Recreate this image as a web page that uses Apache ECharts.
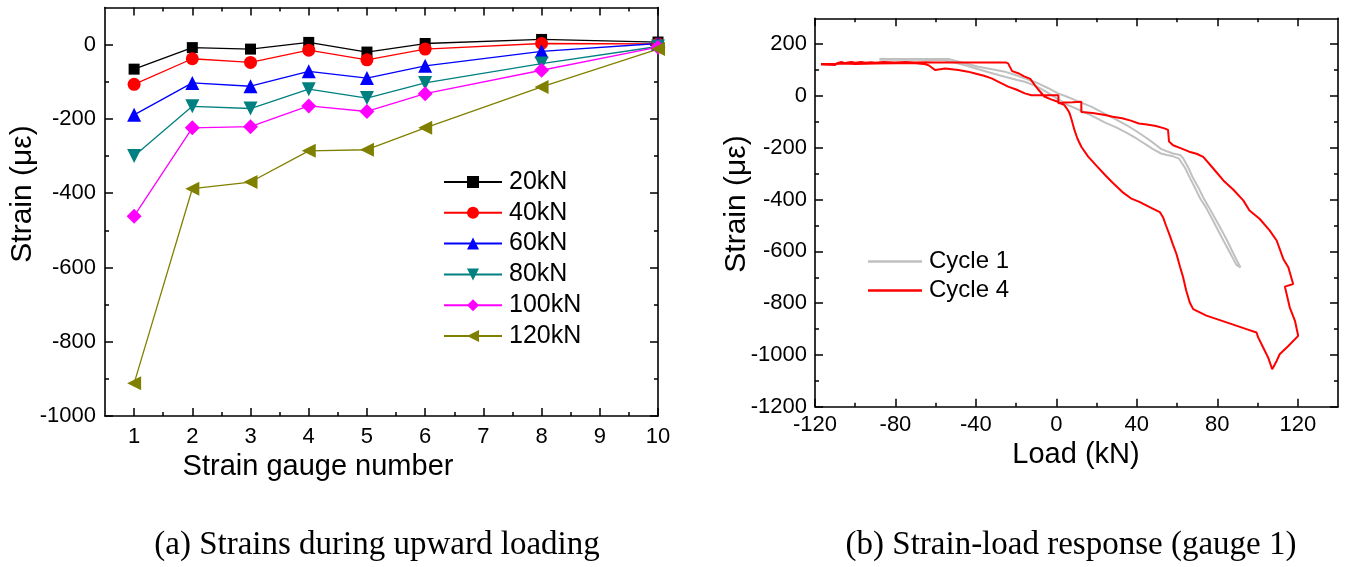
<!DOCTYPE html>
<html>
<head>
<meta charset="utf-8">
<script src="https://cdn.jsdelivr.net/npm/echarts@6/dist/echarts.min.js"></script>
<style>
  html, body { margin: 0; padding: 0; background: #ffffff; }
  #chart { width: 1346px; height: 567px; }
</style>
</head>
<body>
<div id="chart"></div>
<script>
// ---- (a) strains along the gauges for each upward load step (με) ----
const gaugeNumbers = [1, 2, 3, 4, 5, 6, 8, 10];
const strain20kN  = [-66, -8, -12, 6, -20, 3, 14, 7];
const strain40kN  = [-107, -38, -48, -15, -41, -12, 3, 2];
const strain60kN  = [-189, -103, -112, -72, -90, -57, -18, 3];
const strain80kN  = [-300, -166, -172, -120, -144, -103, -51, -5];
const strain100kN = [-462, -224, -221, -165, -180, -132, -69, -7];
const strain120kN = [-912, -388, -370, -286, -283, -224, -114, -12];

// ---- (b) gauge 1 strain against applied load: [load kN, strain με] ----
const cycle1 = [
  [-88, 143], [-70, 143], [-53.6, 143], [-50.3, 136], [-44, 124], [-38.8, 113], [-32, 103],
  [-25.6, 94], [-20, 80], [-15.7, 68], [-9.1, 49], [-4, 30], [0.8, 10], [5, -2], [9.1, -15],
  [17.3, -41], [24, -68], [30, -92], [35, -113], [40, -137], [45, -163], [49, -186],
  [52, -204], [55, -214], [58, -222], [61.5, -228], [63, -240], [65.5, -275], [68, -318],
  [70.5, -352], [73, -392], [76, -432], [79, -474], [82, -516], [85, -560], [88, -608],
  [91.5, -662], [91, -668], [89.5, -652], [86.5, -608], [83.5, -565], [80.5, -520],
  [77.5, -476], [74.5, -432], [71.5, -396], [69, -356], [66.5, -318], [64, -278],
  [61, -242], [58, -233], [55, -228], [52, -222], [48, -205], [45, -190], [40, -165],
  [35, -142], [30, -122], [24, -102], [17.3, -75], [12, -56], [5.8, -35], [0.8, -12],
  [-5.8, 20], [-10, 38], [-15.7, 55], [-20, 63], [-25.6, 74], [-32, 88], [-38.8, 103],
  [-44, 116], [-50.3, 128], [-56, 138], [-70, 140], [-88, 140]
];
const cycle4 = [
  [-117, 122], [-113, 121], [-110, 120], [-109, 127], [-107, 131], [-105, 127], [-102, 131],
  [-100, 128], [-97, 131], [-95, 128], [-92, 130], [-90, 128], [-86, 131], [-80, 129],
  [-75, 131], [-70, 129], [-65, 130], [-60, 129], [-50, 129], [-40, 129], [-30, 129],
  [-25, 129], [-24, 126], [-22, 96], [-19, 88], [-16, 76], [-13, 66], [-11, 45], [-9, 25],
  [-6, -2], [-3, -12], [0, -20], [2, -28], [4, -35], [5.5, -52], [6.5, -65], [7.5, -90],
  [9, -132], [10.5, -165], [12.4, -196], [15.8, -234], [20, -270], [24.2, -305], [28, -335],
  [32.7, -370], [37, -395], [41, -408], [46.4, -429], [51.4, -448], [53, -468], [54.5, -500],
  [56.4, -539], [58, -575], [59.7, -610], [61.5, -660], [63, -700], [64.5, -750],
  [66.3, -797], [68, -823], [74.6, -848], [84.6, -874], [94.5, -900], [99.5, -913],
  [100.3, -932], [102.8, -971], [105.3, -1010], [107.3, -1055], [109.5, -1023], [111, -997],
  [115.3, -965], [120.2, -926], [118.6, -868], [116, -816], [113.6, -736], [117.7, -726],
  [115.3, -661], [112.8, -629], [109.5, -558], [106, -519], [101, -474], [96, -442],
  [92.9, -403], [88, -362], [83, -326], [78, -280], [73, -235], [69.7, -223], [66, -215],
  [62, -202], [58, -190], [56, -176], [55.5, -131], [53.7, -125], [49.5, -116], [45, -110],
  [41, -106], [37, -95], [32.7, -86], [28, -80], [24.2, -73], [18, -66], [12.4, -62],
  [12.4, -22], [8, -24], [4, -25], [1, -28], [1, 3], [-4, 3], [-8, 3], [-12.4, 3],
  [-15.7, 10], [-20, 25], [-24, 36], [-28, 52], [-32.2, 68], [-36, 78], [-40.4, 87],
  [-44, 94], [-48.7, 100], [-55.3, 106], [-60.2, 100], [-62, 110], [-63.5, 119], [-66, 124],
  [-70, 126], [-80, 126], [-90, 125], [-100, 124], [-105, 125], [-110, 124], [-117, 124]
];

// ---- tick values ----
const gaugeTicks = [1, 2, 3, 4, 5, 6, 7, 8, 9, 10];
const gaugeMinorTicks = [1.5, 2.5, 3.5, 4.5, 5.5, 6.5, 7.5, 8.5, 9.5];
const strainTicksA = [-1000, -800, -600, -400, -200, 0];
const strainMinorTicksA = [-900, -700, -500, -300, -100];
const loadTicks = [-120, -80, -40, 0, 40, 80, 120];
const loadMinorTicks = [-100, -60, -20, 20, 60, 100];
const strainTicksB = [-1200, -1000, -800, -600, -400, -200, 0, 200];
const strainMinorTicksB = [-1100, -900, -700, -500, -300, -100, 100];

const SANS = 'Liberation Sans, Arial, sans-serif';
const SERIF = 'Liberation Serif, Times New Roman, serif';
const INK = '#000000';

// Four axes per side pair: labelled main axis, its minor ticks, and the mirrored box edge.
function boxAxes(dim, gridIndex, min, max, major, minor, labelMargin) {
  const pos = dim === 'x' ? ['bottom', 'top'] : ['left', 'right'];
  const base = (position, ticks, len, withLine, withLabel) => ({
    type: 'value', gridIndex, min, max, position,
    axisLine: { show: withLine, onZero: false, lineStyle: { color: INK, width: 1.6 } },
    axisTick: { show: true, inside: true, length: len, customValues: ticks,
                lineStyle: { color: INK, width: 1.5 } },
    axisLabel: withLabel
      ? { show: true, customValues: major, margin: labelMargin, color: INK,
          fontFamily: SANS, fontSize: 22, formatter: v => String(v) }
      : { show: false },
    splitLine: { show: false },
    minorTick: { show: false }
  });
  return [
    base(pos[0], major, 8, true, true),
    base(pos[0], minor, 4, false, false),
    base(pos[1], major, 8, true, false),
    base(pos[1], minor, 4, false, false)
  ];
}

const loadSteps = [
  { name: '20kN',  values: strain20kN,  color: '#000000', symbol: 'rect',     size: 11, rotate: 0 },
  { name: '40kN',  values: strain40kN,  color: '#ff0000', symbol: 'circle',   size: 13, rotate: 0 },
  { name: '60kN',  values: strain60kN,  color: '#0000ff', symbol: 'triangle', size: 14, rotate: 0 },
  { name: '80kN',  values: strain80kN,  color: '#008080', symbol: 'triangle', size: 14, rotate: 180 },
  { name: '100kN', values: strain100kN, color: '#ff00ff', symbol: 'diamond',  size: 15, rotate: 0 },
  { name: '120kN', values: strain120kN, color: '#808000', symbol: 'triangle', size: 14, rotate: 90 }
];

const gaugeSeries = loadSteps.map(s => ({
  name: s.name, type: 'line', xAxisIndex: 0, yAxisIndex: 0,
  data: gaugeNumbers.map((g, i) => [g, s.values[i]]),
  symbol: s.symbol, symbolSize: s.size, symbolRotate: s.rotate,
  lineStyle: { color: s.color, width: 1.3 },
  itemStyle: { color: s.color },
  emphasis: { disabled: true }, animation: false
}));

const chart = echarts.init(document.getElementById('chart'), null, { renderer: 'canvas' });

chart.setOption({
  backgroundColor: '#ffffff',
  animation: false,
  grid: [
    { left: 105, top: 7.5, width: 553, height: 408.5, containLabel: false, outerBoundsMode: 'none' },
    { left: 815, top: 18.3, width: 523, height: 388.5, containLabel: false, outerBoundsMode: 'none' }
  ],
  xAxis: [
    ...boxAxes('x', 0, 0.5, 10, gaugeTicks, gaugeMinorTicks, 10),
    ...boxAxes('x', 1, -120, 140, loadTicks, loadMinorTicks, 7)
  ],
  yAxis: [
    ...boxAxes('y', 0, -1000, 100, strainTicksA, strainMinorTicksA, 9),
    ...boxAxes('y', 1, -1200, 300, strainTicksB, strainMinorTicksB, 8)
  ],
  legend: [
    {
      data: loadSteps.map(s => s.name),
      orient: 'vertical', left: 443, top: 169.5, padding: 0,
      itemWidth: 58, itemHeight: 15, itemGap: 5.8,
      textStyle: { fontFamily: SANS, fontSize: 25, lineHeight: 25, color: INK, padding: [0, 0, 0, 2] },
      selectedMode: false
    },
    {
      data: [{ name: 'Cycle 1', icon: 'rect' }, { name: 'Cycle 4', icon: 'rect' }],
      orient: 'vertical', left: 868, top: 249.5, padding: 0,
      itemWidth: 54, itemHeight: 2.5, itemGap: 5,
      textStyle: { fontFamily: SANS, fontSize: 24, lineHeight: 24, color: INK, padding: [0, 0, 0, 2] },
      selectedMode: false
    }
  ],
  series: [
    ...gaugeSeries,
    {
      name: 'Cycle 1', type: 'line', xAxisIndex: 4, yAxisIndex: 4,
      data: cycle1, symbol: 'none', smooth: false,
      lineStyle: { color: '#c0c0c0', width: 2 }, itemStyle: { color: '#c0c0c0' },
      emphasis: { disabled: true }, animation: false
    },
    {
      name: 'Cycle 4', type: 'line', xAxisIndex: 4, yAxisIndex: 4,
      data: cycle4, symbol: 'none', smooth: false,
      lineStyle: { color: '#ff0000', width: 2 }, itemStyle: { color: '#ff0000' },
      emphasis: { disabled: true }, animation: false
    }
  ],
  graphic: [
    { type: 'text', x: 23, y: 194, rotation: Math.PI / 2,
      style: { text: 'Strain (με)', font: '30px ' + SANS, fill: INK, textAlign: 'center', textVerticalAlign: 'middle' } },
    { type: 'text', x: 318, y: 467,
      style: { text: 'Strain gauge number', font: '29px ' + SANS, fill: INK, textAlign: 'center', textVerticalAlign: 'middle' } },
    { type: 'text', x: 737, y: 204, rotation: Math.PI / 2,
      style: { text: 'Strain (με)', font: '30px ' + SANS, fill: INK, textAlign: 'center', textVerticalAlign: 'middle' } },
    { type: 'text', x: 1076, y: 455,
      style: { text: 'Load (kN)', font: '29px ' + SANS, fill: INK, textAlign: 'center', textVerticalAlign: 'middle' } },
    { type: 'text', x: 377, y: 545,
      style: { text: '(a) Strains during upward loading', font: '33px ' + SERIF, fill: INK, textAlign: 'center', textVerticalAlign: 'middle' } },
    { type: 'text', x: 1071, y: 545,
      style: { text: '(b) Strain-load response (gauge 1)', font: '33px ' + SERIF, fill: INK, textAlign: 'center', textVerticalAlign: 'middle' } }
  ]
});
</script>
</body>
</html>
